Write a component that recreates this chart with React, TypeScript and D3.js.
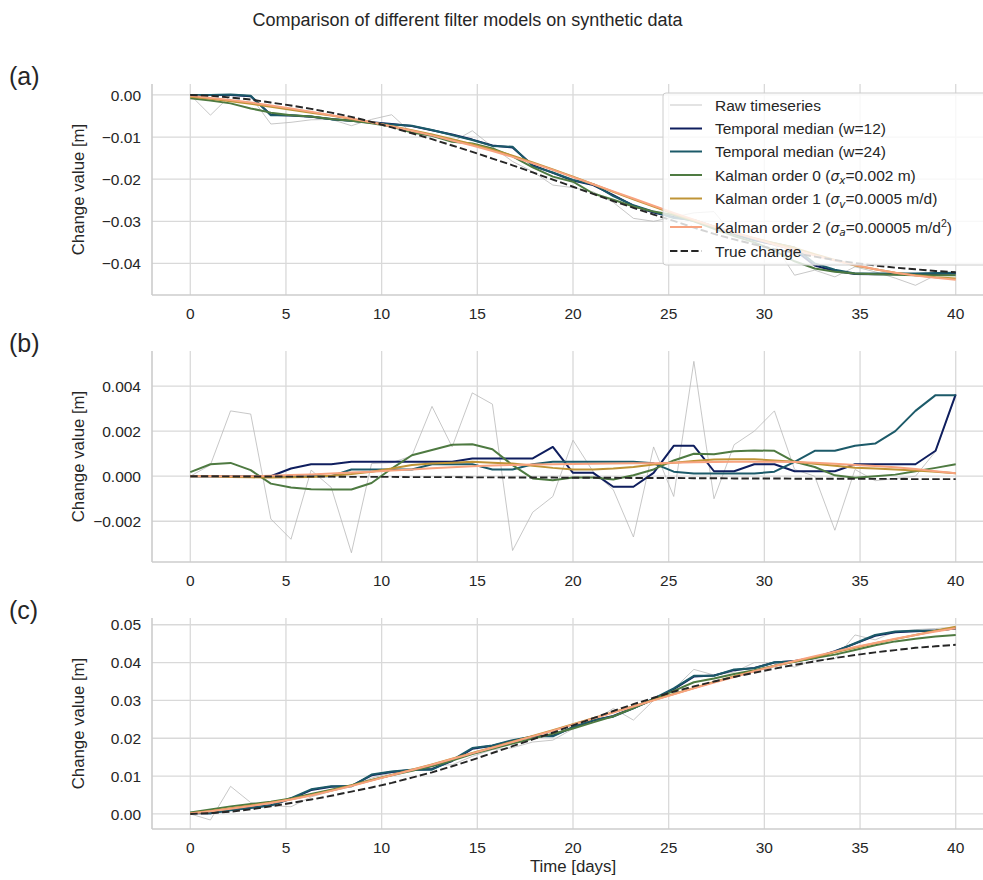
import React from "react";
import * as d3 from "d3";

// time axis (days), 39 samples
const days = [0, 1.053, 2.105, 3.158, 4.211, 5.263, 6.316, 7.368, 8.421, 9.474, 10.526, 11.579, 12.632, 13.684, 14.737, 15.789, 16.842, 17.895, 18.947, 20, 21.053, 22.105, 23.158, 24.211, 25.263, 26.316, 27.368, 28.421, 29.474, 30.526, 31.579, 32.632, 33.684, 34.737, 35.789, 36.842, 37.895, 38.947, 40];

// panel (a)
const rawA = [0, -0.0048, -0.0001, -0.0004, -0.0069, -0.0065, -0.0059, -0.0058, -0.0073, -0.0058, -0.0047, -0.0091, -0.0093, -0.0112, -0.0085, -0.0123, -0.0158, -0.0182, -0.0214, -0.022, -0.023, -0.0255, -0.0293, -0.03, -0.029, -0.028, -0.0277, -0.0336, -0.034, -0.0355, -0.0428, -0.0416, -0.0432, -0.0408, -0.042, -0.0435, -0.0452, -0.0428, -0.0425];
const med12A = [0, 0, 0, -0.0003, -0.0047, -0.0049, -0.0052, -0.0057, -0.0061, -0.0065, -0.0069, -0.0074, -0.0084, -0.0094, -0.0106, -0.012, -0.0125, -0.0167, -0.0185, -0.0203, -0.0214, -0.0238, -0.0263, -0.0279, -0.029, -0.0299, -0.0314, -0.033, -0.0345, -0.0355, -0.0368, -0.0405, -0.0418, -0.0425, -0.0426, -0.0426, -0.0426, -0.0425, -0.0424];
const med24A = [0, 0, 0.0001, -0.0002, -0.0048, -0.0048, -0.0051, -0.0058, -0.0061, -0.0066, -0.007, -0.0073, -0.0083, -0.0095, -0.0107, -0.0121, -0.0123, -0.0169, -0.0184, -0.0202, -0.0212, -0.024, -0.0262, -0.0277, -0.0292, -0.0297, -0.0312, -0.0329, -0.0344, -0.0352, -0.0362, -0.04, -0.0415, -0.0424, -0.0424, -0.0424, -0.0424, -0.0423, -0.0422];
const kal0A = [-0.0008, -0.0013, -0.002, -0.0032, -0.0042, -0.0048, -0.0051, -0.0057, -0.0061, -0.0067, -0.0075, -0.0089, -0.0097, -0.0111, -0.0115, -0.0127, -0.0146, -0.0172, -0.0194, -0.0206, -0.0234, -0.0249, -0.0265, -0.0277, -0.0285, -0.03, -0.0318, -0.0335, -0.035, -0.037, -0.0395, -0.0412, -0.042, -0.0424, -0.0426, -0.0427, -0.0428, -0.0428, -0.0428];
const kal1A = [-0.0004, -0.0009, -0.0015, -0.0021, -0.0028, -0.0035, -0.0042, -0.0049, -0.0057, -0.0065, -0.0074, -0.0084, -0.0094, -0.0105, -0.0117, -0.013, -0.0144, -0.016, -0.0177, -0.0194, -0.0212, -0.023, -0.0248, -0.0265, -0.0282, -0.0298, -0.0313, -0.0327, -0.034, -0.0352, -0.0363, -0.0378, -0.0392, -0.0405, -0.0414, -0.0422, -0.0428, -0.0433, -0.0436];
const kal2A = [-0.0002, -0.0007, -0.0012, -0.0018, -0.0025, -0.0032, -0.004, -0.0048, -0.0056, -0.0065, -0.0075, -0.0085, -0.0096, -0.0108, -0.012, -0.0133, -0.0147, -0.0162, -0.0178, -0.0195, -0.0212, -0.0229, -0.0246, -0.0263, -0.028, -0.0296, -0.0312, -0.0327, -0.0341, -0.0355, -0.0368, -0.0381, -0.0393, -0.0404, -0.0414, -0.0422, -0.0429, -0.0434, -0.0439];
const trueA = [0, -0.0002, -0.0006, -0.0011, -0.0018, -0.0025, -0.0033, -0.0042, -0.0052, -0.0064, -0.0077, -0.0091, -0.0105, -0.012, -0.0135, -0.0151, -0.0167, -0.0184, -0.0201, -0.0218, -0.0235, -0.0252, -0.0268, -0.0284, -0.0299, -0.0315, -0.033, -0.0343, -0.0355, -0.0366, -0.0375, -0.0384, -0.0392, -0.0399, -0.0405, -0.041, -0.0414, -0.0418, -0.0421];

// panel (b)
const rawB = [0, 0.0005, 0.0029, 0.00276, -0.0019, -0.0028, 0.00027, -0.0005, -0.0034, 0.00056, 0.0006, 0.0009, 0.0031, 0.0013, 0.0037, 0.0032, -0.0033, -0.0016, -0.0009, 0.0016, 0.0002, -0.0006, -0.0027, 0.0013, -0.0009, 0.0051, -0.001, 0.0014, 0.002, 0.0029, 0.0003, 0, -0.0024, 0.0003, -0.0002, -0.0001, 0, 0.0011, 0.0036];
const med12B = [0, 0, 0, 0, 0, 0.00034, 0.00053, 0.00053, 0.00064, 0.00064, 0.00064, 0.00064, 0.00064, 0.00064, 0.00079, 0.00079, 0.00079, 0.00079, 0.0013, 0.00015, 0.00015, -0.00047, -0.00047, 0.00015, 0.00135, 0.00135, 0.00022, 0.00022, 0.00053, 0.00053, 0.00022, 0.00022, 0.00022, 0.00053, 0.00053, 0.00053, 0.00053, 0.00113, 0.00363];
const med24B = [0, 0, 0, 0, 0, 0, 0, 0, 0.0003, 0.0003, 0.0003, 0.0003, 0.00053, 0.00053, 0.00053, 0.0003, 0.0003, 0.00053, 0.00064, 0.00064, 0.00064, 0.00064, 0.00064, 0.00057, 0.0002, 0.00012, 0.00012, 0.00012, 0.00012, 0.0002, 0.00064, 0.00113, 0.00113, 0.00135, 0.00145, 0.002, 0.0029, 0.0036, 0.0036];
const kal0B = [0.00018, 0.00053, 0.00059, 0.00027, -0.00033, -0.0005, -0.00058, -0.00059, -0.00059, -0.0003, 0.00034, 0.00093, 0.00116, 0.0014, 0.00142, 0.0012, 0.00049, -0.0001, -0.00018, -0.00006, -0.00006, -0.00015, 0.00004, 0.0003, 0.0007, 0.001, 0.00098, 0.00111, 0.00114, 0.00113, 0.00064, 0.00041, 0.00004, -0.00007, 0, 0.00007, 0.00022, 0.00037, 0.00053];
const kal1B = [0, 0, -0.00003, -0.00005, -0.00006, -0.00005, -0.00003, 0.00002, 0.0001, 0.0002, 0.00034, 0.0005, 0.00056, 0.0006, 0.00064, 0.0006, 0.00056, 0.00046, 0.00037, 0.0003, 0.0003, 0.00034, 0.00041, 0.00052, 0.0006, 0.00068, 0.00074, 0.00075, 0.00075, 0.0007, 0.00064, 0.00055, 0.00046, 0.00038, 0.00034, 0.0003, 0.00025, 0.0002, 0.00013];
const kal2B = [0, 0, 0, 0, 0.00002, 0.00005, 0.00008, 0.00012, 0.00016, 0.0002, 0.00025, 0.0003, 0.00035, 0.0004, 0.00044, 0.00047, 0.0005, 0.00052, 0.00053, 0.00054, 0.00055, 0.00056, 0.00057, 0.00058, 0.0006, 0.00062, 0.00063, 0.00064, 0.00064, 0.00064, 0.00063, 0.0006, 0.00055, 0.0005, 0.00045, 0.0004, 0.00032, 0.00022, 0.00013];
const trueB = [0, 0, -0.00001, -0.00001, -0.00001, -0.00002, -0.00002, -0.00002, -0.00003, -0.00003, -0.00003, -0.00004, -0.00004, -0.00004, -0.00005, -0.00005, -0.00006, -0.00006, -0.00006, -0.00007, -0.00007, -0.00007, -0.00008, -0.00008, -0.00008, -0.00009, -0.00009, -0.0001, -0.0001, -0.0001, -0.00011, -0.00011, -0.00011, -0.00012, -0.00012, -0.00012, -0.00013, -0.00013, -0.00013];

// panel (c)
const rawC = [0, -0.0016, 0.0073, 0.003, 0.0022, 0.0019, 0.0045, 0.006, 0.0072, 0.0095, 0.0108, 0.0112, 0.0128, 0.013, 0.0152, 0.017, 0.0175, 0.019, 0.0195, 0.0225, 0.0245, 0.0279, 0.0248, 0.03, 0.033, 0.0382, 0.0367, 0.0375, 0.04, 0.04, 0.0388, 0.0407, 0.041, 0.0473, 0.046, 0.0482, 0.0487, 0.049, 0.0494];
const med12C = [0.0002, 0.0002, 0.0011, 0.0017, 0.0023, 0.004, 0.0063, 0.0072, 0.0074, 0.0102, 0.0111, 0.0116, 0.0119, 0.014, 0.0172, 0.018, 0.0193, 0.0204, 0.0207, 0.0228, 0.0247, 0.0259, 0.028, 0.0303, 0.033, 0.0363, 0.0366, 0.038, 0.0386, 0.04, 0.0404, 0.0413, 0.043, 0.045, 0.0471, 0.048, 0.0483, 0.0485, 0.049];
const med24C = [0.0003, 0.0002, 0.001, 0.0016, 0.0022, 0.0042, 0.0065, 0.0073, 0.0073, 0.0104, 0.0112, 0.0117, 0.0117, 0.0142, 0.0174, 0.0181, 0.0195, 0.0205, 0.0205, 0.023, 0.0248, 0.0257, 0.0279, 0.0305, 0.0332, 0.0365, 0.0365, 0.0382, 0.0385, 0.0401, 0.0403, 0.0412, 0.0429, 0.0451, 0.0473, 0.0482, 0.0484, 0.0484, 0.0491];
const kal0C = [0.0004, 0.0012, 0.002, 0.0026, 0.0032, 0.0041, 0.0053, 0.0064, 0.0076, 0.009, 0.0102, 0.0114, 0.0126, 0.0141, 0.0158, 0.0172, 0.0186, 0.0199, 0.0212, 0.0226, 0.0242, 0.0258, 0.028, 0.0302, 0.0325, 0.0348, 0.0358, 0.037, 0.038, 0.0392, 0.0402, 0.0412, 0.0421, 0.0433, 0.0446, 0.0456, 0.0463, 0.0469, 0.0473];
const kal1C = [0.0002, 0.0008, 0.0015, 0.0022, 0.003, 0.0039, 0.005, 0.0062, 0.0075, 0.0089, 0.0103, 0.0117, 0.0131, 0.0146, 0.0161, 0.0176, 0.0191, 0.0206, 0.0221, 0.0237, 0.0253, 0.0269, 0.0285, 0.0301, 0.0317, 0.0333, 0.0349, 0.0364, 0.0378, 0.0391, 0.0403, 0.0415, 0.0427, 0.0439, 0.0451, 0.0462, 0.0473, 0.0484, 0.0495];
const kal2C = [0.0001, 0.0007, 0.0014, 0.0021, 0.0029, 0.0038, 0.0049, 0.0061, 0.0074, 0.0088, 0.0102, 0.0116, 0.013, 0.0145, 0.016, 0.0175, 0.019, 0.0205, 0.022, 0.0236, 0.0252, 0.0268, 0.0284, 0.03, 0.0316, 0.0332, 0.0347, 0.0362, 0.0377, 0.0391, 0.0404, 0.0417, 0.0429, 0.0441, 0.0452, 0.0463, 0.0473, 0.0482, 0.0491];
const trueC = [0, 0.0002, 0.0006, 0.0012, 0.002, 0.0029, 0.0038, 0.0048, 0.0059, 0.007, 0.0082, 0.0096, 0.011, 0.0126, 0.0143, 0.0161, 0.0179, 0.0197, 0.0215, 0.0234, 0.0253, 0.0272, 0.029, 0.0307, 0.0323, 0.0337, 0.035, 0.0362, 0.0373, 0.0384, 0.0394, 0.0403, 0.0412, 0.042, 0.0427, 0.0433, 0.0439, 0.0443, 0.0447];

const xTicks = [0, 5, 10, 15, 20, 25, 30, 35, 40];
const yTicksA = [0, -0.01, -0.02, -0.03, -0.04];
const yTicksB = [-0.002, 0, 0.002, 0.004];
const yTicksC = [0, 0.01, 0.02, 0.03, 0.04, 0.05];

// style per series: raw, median w12, median w24, kalman 0/1/2, truth
const colors = ["#b9b9b9", "#0f1e5e", "#1c5a69", "#4e7a41", "#bf9436", "#f8a37f", "#262626"];
const widths = [0.8, 2, 2, 2, 2, 2, 1.9];

const FONT = "'Liberation Sans', Arial, Helvetica, sans-serif";
const TXT = "#262626";
const X0 = 152;
const X1 = 994;
const PH = 211;

const panels = [
  { tag: "(a)", top: 84, series: [rawA, med12A, med24A, kal0A, kal1A, kal2A, trueA], domain: [-0.0475, 0.0026], ticks: yTicksA, fmt: ".2f" },
  { tag: "(b)", top: 351, series: [rawB, med12B, med24B, kal0B, kal1B, kal2B, trueB], domain: [-0.00381, 0.00556], ticks: yTicksB, fmt: ".3f" },
  { tag: "(c)", top: 618, series: [rawC, med12C, med24C, kal0C, kal1C, kal2C, trueC], domain: [-0.00398, 0.05178], ticks: yTicksC, fmt: ".2f" },
];

const x = d3.scaleLinear().domain([-2, 42]).range([X0, X1]);

function Legend() {
  const left = 663;
  const top = 93;
  const rows = [105, 128.5, 151.5, 175, 198.5, 227, 251];
  const ital = { fontFamily: "'DejaVu Sans', sans-serif", fontStyle: "italic" as const };
  const labels = [
    <>Raw timeseries</>,
    <>Temporal median (w=12)</>,
    <>Temporal median (w=24)</>,
    <>Kalman order 0 (<tspan {...ital} fontSize={14}>σ</tspan><tspan {...ital} fontSize={10.5} dy={3.5}>x</tspan><tspan dy={-3.5}>=0.002 m)</tspan></>,
    <>Kalman order 1 (<tspan {...ital} fontSize={14}>σ</tspan><tspan {...ital} fontSize={10.5} dy={3.5}>v</tspan><tspan dy={-3.5}>=0.0005 m/d)</tspan></>,
    <>Kalman order 2 (<tspan {...ital} fontSize={14}>σ</tspan><tspan {...ital} fontSize={10.5} dy={3.5}>a</tspan><tspan dy={-3.5}>=0.00005 m/d</tspan><tspan fontSize={10.5} dy={-6}>2</tspan><tspan dy={6}>)</tspan></>,
    <>True change</>,
  ];
  return (
    <g>
      <rect x={left} y={top} width={340} height={172} rx={3} fill="#ffffff" fillOpacity={0.8} stroke="#cccccc" strokeWidth={1} />
      {rows.map((cy, i) => (
        <g key={i}>
          <line x1={670} x2={702} y1={cy} y2={cy} stroke={colors[i]} strokeWidth={widths[i]} strokeDasharray={i === 6 ? "7.4 3.2" : undefined} />
          <text x={715} y={cy + 5.5} fontSize={15.5} fill={TXT} fontFamily={FONT}>{labels[i]}</text>
        </g>
      ))}
    </g>
  );
}

function Panel({ p, idx }) {
  const y = d3.scaleLinear().domain(p.domain).range([p.top + PH, p.top]);
  const line = d3.line<number>().x((_, i) => x(days[i])).y((d) => y(d));
  const fmt = d3.format(p.fmt);
  const bottom = p.top + PH;
  return (
    <g>
      {xTicks.map((t) => (
        <line key={"gx" + t} x1={x(t)} x2={x(t)} y1={p.top} y2={bottom} stroke="#d9d9d9" strokeWidth={1.3} />
      ))}
      {p.ticks.map((t) => (
        <line key={"gy" + t} x1={X0} x2={X1} y1={y(t)} y2={y(t)} stroke="#d9d9d9" strokeWidth={1.3} />
      ))}
      <line x1={X0} x2={X0} y1={p.top} y2={bottom} stroke="#cccccc" strokeWidth={1.6} />
      <line x1={X0} x2={X1} y1={bottom} y2={bottom} stroke="#cccccc" strokeWidth={1.6} />
      {p.series.map((s, i) => (
        <path key={i} d={line(s) || ""} fill="none" stroke={colors[i]} strokeWidth={widths[i]}
          strokeDasharray={i === 6 ? "7.4 3.2" : undefined} strokeLinejoin="round" />
      ))}
      {idx === 0 && <Legend />}
      {p.ticks.map((t) => (
        <text key={"ty" + t} x={141} y={y(t) + 5.6} textAnchor="end" fontSize={15.5} fill={TXT} fontFamily={FONT}>{fmt(t)}</text>
      ))}
      {xTicks.map((t) => (
        <text key={"tx" + t} x={x(t)} y={bottom + 24} textAnchor="middle" fontSize={15.5} fill={TXT} fontFamily={FONT}>{t}</text>
      ))}
      <text transform={`translate(84,${p.top + PH / 2}) rotate(-90)`} textAnchor="middle" fontSize={16.8} fill={TXT} fontFamily={FONT}>Change value [m]</text>
      <text x={9} y={p.top + 1} fontSize={25} fill={TXT} fontFamily={FONT}>{p.tag}</text>
    </g>
  );
}

export default function App() {
  return (
    <svg width={983} height={880} style={{ position: "absolute", left: 0, top: 0, background: "#fff" }}>
      <rect width={983} height={880} fill="#ffffff" />
      <text x={467.5} y={26} textAnchor="middle" fontSize={18} fill={TXT} fontFamily={FONT}>Comparison of different filter models on synthetic data</text>
      {panels.map((p, i) => <Panel key={i} p={p} idx={i} />)}
      <text x={573} y={872} textAnchor="middle" fontSize={16.8} fill={TXT} fontFamily={FONT}>Time [days]</text>
    </svg>
  );
}
